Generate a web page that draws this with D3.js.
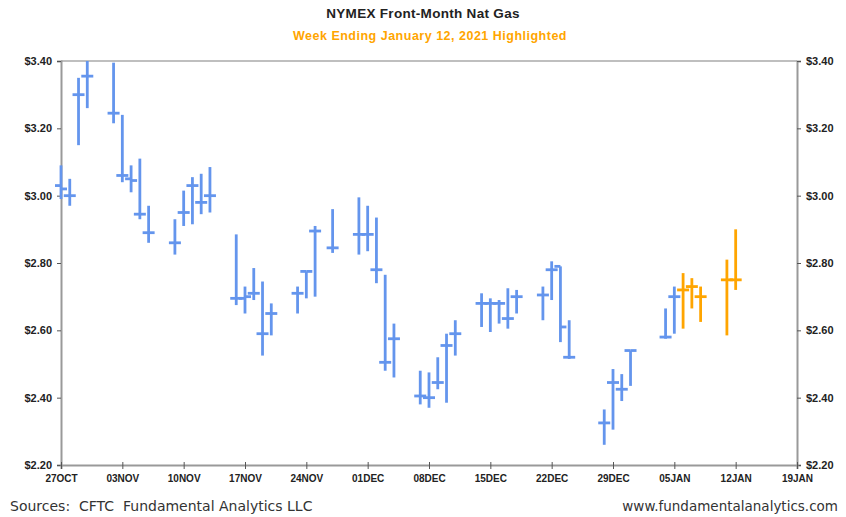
<!DOCTYPE html>
<html>
<head>
<meta charset="utf-8">
<script src="https://cdn.jsdelivr.net/npm/d3@7"></script>
<style>
  body { margin: 0; background: #fff; }
  text { font-family: "Liberation Sans", Arial, sans-serif; }
</style>
</head>
<body>
<div id="chart"></div>
<script>
// daily bars (open / high / low / close)
var dates = ["2020-10-27","2020-10-28","2020-10-29","2020-10-30",
  "2020-11-02","2020-11-03","2020-11-04","2020-11-05","2020-11-06",
  "2020-11-09","2020-11-10","2020-11-11","2020-11-12","2020-11-13",
  "2020-11-16","2020-11-17","2020-11-18","2020-11-19","2020-11-20",
  "2020-11-23","2020-11-24","2020-11-25","2020-11-27",
  "2020-11-30","2020-12-01","2020-12-02","2020-12-03","2020-12-04",
  "2020-12-07","2020-12-08","2020-12-09","2020-12-10","2020-12-11",
  "2020-12-14","2020-12-15","2020-12-16","2020-12-17","2020-12-18",
  "2020-12-21","2020-12-22","2020-12-23","2020-12-24",
  "2020-12-28","2020-12-29","2020-12-30","2020-12-31",
  "2021-01-04","2021-01-05","2021-01-06","2021-01-07","2021-01-08",
  "2021-01-11","2021-01-12"];

var opens  = [3.03,3.00,3.30,3.355, 3.245,3.06,3.05,2.945,2.89, 2.86,2.95,3.03,2.98,3.00,
  2.695,2.695,2.71,2.59,2.65, 2.71,2.775,2.895,2.845, 2.885,2.885,2.78,2.505,2.575,
  2.405,2.40,2.445,2.555,2.59, 2.68,2.68,2.68,2.635,2.70, 2.705,2.78,2.79,2.52,
  2.325,2.445,2.425,2.54, 2.58,2.70,2.72,2.73,2.70, 2.75,2.75];
var highs  = [3.09,3.05,3.35,3.40, 3.395,3.24,3.09,3.11,2.97, 2.93,3.015,3.055,3.065,3.085,
  2.885,2.73,2.785,2.745,2.68, 2.73,2.775,2.91,2.96, 2.995,2.97,2.935,2.765,2.62,
  2.48,2.475,2.52,2.59,2.63, 2.71,2.695,2.69,2.725,2.72, 2.73,2.805,2.79,2.63,
  2.365,2.485,2.47,2.54, 2.665,2.73,2.77,2.755,2.73, 2.81,2.90];
var lows   = [2.99,2.97,3.15,3.26, 3.215,3.04,3.01,2.93,2.86, 2.825,2.91,2.915,2.945,2.95,
  2.675,2.65,2.69,2.525,2.585, 2.65,2.695,2.70,2.83, 2.825,2.835,2.74,2.48,2.46,
  2.38,2.37,2.425,2.385,2.525, 2.61,2.595,2.62,2.605,2.65, 2.63,2.69,2.565,2.515,
  2.26,2.305,2.39,2.435, 2.575,2.59,2.605,2.665,2.625, 2.585,2.72];
var closes = [3.02,3.00,3.30,3.355, 3.245,3.06,3.045,2.945,2.89, 2.86,2.95,3.03,2.98,3.00,
  2.695,2.70,2.71,2.59,2.65, 2.71,2.775,2.895,2.845, 2.885,2.885,2.78,2.505,2.575,
  2.405,2.40,2.445,2.555,2.59, 2.68,2.68,2.68,2.635,2.70, 2.705,2.78,2.61,2.52,
  2.325,2.445,2.425,2.54, 2.58,2.70,2.72,2.73,2.70, 2.75,2.75];

var highlightStart = "2021-01-06";   // week ending Jan 12
var weekTicks = ["2020-10-27","2020-11-03","2020-11-10","2020-11-17","2020-11-24",
  "2020-12-01","2020-12-08","2020-12-15","2020-12-22","2020-12-29",
  "2021-01-05","2021-01-12","2021-01-19"];
var priceTicks = [2.2, 2.4, 2.6, 2.8, 3.0, 3.2, 3.4];

var W = 846, H = 517;
var margin = {top: 61, right: 49, bottom: 52, left: 61},
    width = W - margin.left - margin.right,
    height = H - margin.top - margin.bottom;

var parse = d3.timeParse("%Y-%m-%d");
var data = dates.map(function(d, i) {
  return { date: parse(d), open: opens[i], high: highs[i], low: lows[i], close: closes[i],
           hot: d >= highlightStart };
});

var svg = d3.select("#chart").append("svg")
    .attr("width", W).attr("height", H);

svg.append("text")
    .attr("x", 423).attr("y", 18)
    .attr("text-anchor", "middle")
    .style("font-size", "13.5px").style("font-weight", "bold").style("fill", "#222")
    .style("letter-spacing", "0.3px")
    .text("NYMEX Front-Month Nat Gas");
svg.append("text")
    .attr("x", 430).attr("y", 40)
    .attr("text-anchor", "middle")
    .style("font-size", "12.5px").style("font-weight", "bold").style("fill", "#FFA500")
    .style("letter-spacing", "0.5px")
    .text("Week Ending January 12, 2021 Highlighted");

var g = svg.append("g")
    .attr("transform", "translate(" + margin.left + "," + margin.top + ")");

var x = d3.scaleTime()
    .domain([parse(weekTicks[0]), parse(weekTicks[weekTicks.length - 1])])
    .range([0, width]);
var y = d3.scaleLinear()
    .domain([2.2, 3.4])
    .range([height, 0]);

// top border
g.append("line")
    .attr("x1", 0).attr("x2", width).attr("y1", 0).attr("y2", 0)
    .attr("stroke", "#aaa").attr("stroke-width", 1.5);

var fmt = d3.format("$.2f");
var yl = g.append("g").call(d3.axisLeft(y).tickValues(priceTicks).tickFormat(fmt).tickSize(4).tickPadding(5));
var yr = g.append("g").attr("transform", "translate(" + width + ",0)")
    .call(d3.axisRight(y).tickValues(priceTicks).tickFormat(fmt).tickSize(4).tickPadding(5));
var xa = g.append("g").attr("transform", "translate(0," + height + ")")
    .call(d3.axisBottom(x).tickValues(weekTicks.map(parse))
      .tickFormat(function(d) { return d3.timeFormat("%d%b")(d).toUpperCase(); })
      .tickSize(4).tickPadding(6));

[yl, yr, xa].forEach(function(a) {
  a.select(".domain").attr("stroke", "#999").attr("stroke-width", 2);
  a.selectAll(".tick line").attr("stroke", "#555");
  a.selectAll("text").style("font-size", "10px").style("font-weight", "bold").style("fill", "#222")
    .style("font-family", "Liberation Sans, Arial, sans-serif");
});
yl.selectAll("text").style("font-size", "11px");
yr.selectAll("text").style("font-size", "11px");
xa.selectAll(".tick line").attr("y1", -3);

// OHLC bars
var bars = g.append("g").selectAll("g.bar")
  .data(data).enter().append("g")
    .attr("stroke", function(d) { return d.hot ? "#FFA500" : "#6495ED"; })
    .attr("stroke-width", 2.8);
bars.append("line")
    .attr("x1", function(d) { return x(d.date); })
    .attr("x2", function(d) { return x(d.date); })
    .attr("y1", function(d) { return y(d.high); })
    .attr("y2", function(d) { return y(d.low); });
bars.append("line")
    .attr("x1", function(d) { return x(d.date) - 6; })
    .attr("x2", function(d) { return x(d.date); })
    .attr("y1", function(d) { return y(d.open); })
    .attr("y2", function(d) { return y(d.open); });
bars.append("line")
    .attr("x1", function(d) { return x(d.date); })
    .attr("x2", function(d) { return x(d.date) + 6; })
    .attr("y1", function(d) { return y(d.close); })
    .attr("y2", function(d) { return y(d.close); });

// footer
svg.append("text")
    .attr("x", 10).attr("y", 511)
    .style("font-size", "14px").style("fill", "#333")
    .style("font-family", "DejaVu Sans, sans-serif")
    .attr("xml:space", "preserve")
    .text("Sources:  CFTC  Fundamental Analytics LLC");
svg.append("text")
    .attr("x", 838).attr("y", 511)
    .attr("text-anchor", "end")
    .style("font-size", "13.5px").style("fill", "#333")
    .style("font-family", "DejaVu Sans, sans-serif")
    .text("www.fundamentalanalytics.com");
</script>
</body>
</html>
